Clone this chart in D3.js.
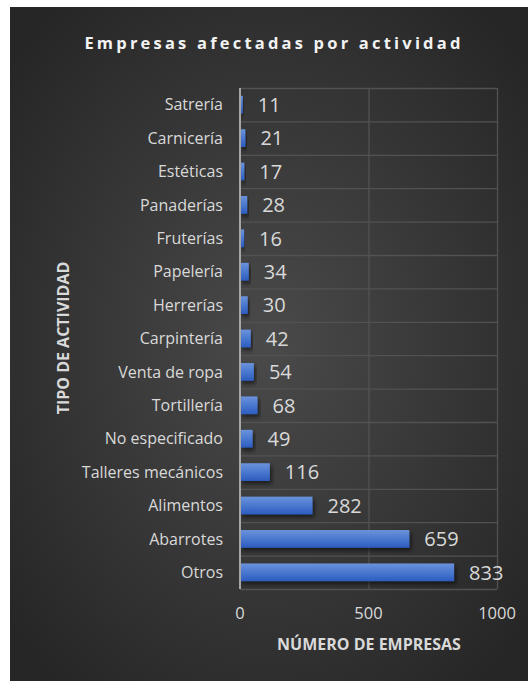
<!DOCTYPE html>
<html>
<head>
<meta charset="utf-8">
<script src="https://cdn.jsdelivr.net/npm/d3@7"></script>
<style>
  html, body { margin: 0; padding: 0; background: #ffffff; }
  svg { display: block; }
  text { font-family: "Open Sans", Lato, sans-serif; }
</style>
</head>
<body>
<script>
// Activity categories, listed top to bottom
const categories = [
  "Satrería", "Carnicería", "Estéticas", "Panaderías", "Fruterías",
  "Papelería", "Herrerías", "Carpintería", "Venta de ropa", "Tortillería",
  "No especificado", "Talleres mecánicos", "Alimentos", "Abarrotes", "Otros"
];
// Number of affected businesses per category
const empresas = [11, 21, 17, 28, 16, 34, 30, 42, 54, 68, 49, 116, 282, 659, 833];
const xTicks = [0, 500, 1000];

const W = 528, H = 681;
const svg = d3.select("body").append("svg").attr("width", W).attr("height", H);
const defs = svg.append("defs");

const bg = defs.append("radialGradient").attr("id", "bg")
  .attr("cx", "50%").attr("cy", "50%").attr("r", "65%");
bg.append("stop").attr("offset", "0%").attr("stop-color", "#4a4a4a");
bg.append("stop").attr("offset", "100%").attr("stop-color", "#262626");

const barGrad = defs.append("linearGradient").attr("id", "barGrad")
  .attr("x1", 0).attr("y1", 0).attr("x2", 0).attr("y2", 1);
barGrad.append("stop").attr("offset", "0%").attr("stop-color", "#6b93dc");
barGrad.append("stop").attr("offset", "50%").attr("stop-color", "#4a78cf");
barGrad.append("stop").attr("offset", "100%").attr("stop-color", "#2c5cc0");

const shadow = defs.append("filter").attr("id", "shadow")
  .attr("x", "-10%").attr("y", "-30%").attr("width", "130%").attr("height", "190%");
shadow.append("feDropShadow").attr("dx", 2).attr("dy", 3).attr("stdDeviation", 2.2)
  .attr("flood-color", "#000").attr("flood-opacity", 0.55);

// Chart area
svg.append("rect").attr("x", 10).attr("y", 7).attr("width", W - 10).attr("height", H - 7)
  .attr("fill", "url(#bg)");

const plot = { left: 240, right: 497, top: 88, bottom: 589 };

const x = d3.scaleLinear().domain([0, 1000]).range([plot.left, plot.right]);
const y = d3.scaleBand().domain(categories).range([plot.top, plot.bottom])
  .paddingInner(0.47).paddingOuter(0.235);
const yb = d3.scaleBand().domain(categories).range([plot.top, plot.bottom]);

const grid = svg.append("g");
// horizontal separators between categories
grid.selectAll("line.h").data(categories.concat(["__end"])).join("line")
  .attr("x1", plot.left).attr("x2", plot.right)
  .attr("y1", (d, i) => plot.top + i * yb.step() + 0.5)
  .attr("y2", (d, i) => plot.top + i * yb.step() + 0.5)
  .attr("stroke", "#525252").attr("stroke-width", 1.3);
// vertical gridlines
grid.selectAll("line.v").data(xTicks.slice(1)).join("line")
  .attr("x1", d => x(d) + 0.5).attr("x2", d => x(d) + 0.5)
  .attr("y1", plot.top).attr("y2", plot.bottom)
  .attr("stroke", "#525252").attr("stroke-width", 1.3);

// bars
svg.append("g").selectAll("rect").data(empresas).join("rect")
  .attr("x", x(0))
  .attr("y", (d, i) => y(categories[i]))
  .attr("width", d => x(d) - x(0))
  .attr("height", y.bandwidth())
  .attr("fill", "url(#barGrad)")
  .attr("filter", "url(#shadow)");

// category axis line
svg.append("line").attr("x1", plot.left).attr("x2", plot.left)
  .attr("y1", plot.top).attr("y2", plot.bottom)
  .attr("stroke", "#a6a6a6").attr("stroke-width", 2);

// category labels
svg.append("g").selectAll("text").data(categories).join("text")
  .attr("x", 223)
  .attr("y", d => yb(d) + yb.bandwidth() / 2)
  .attr("dy", "0.35em")
  .attr("text-anchor", "end")
  .attr("fill", "#d9d9d9")
  .attr("font-size", 16)
  .text(d => d);

// value labels
svg.append("g").selectAll("text").data(empresas).join("text")
  .attr("x", d => x(d) + 15)
  .attr("y", (d, i) => yb(categories[i]) + yb.bandwidth() / 2)
  .attr("dy", "0.36em")
  .attr("fill", "#d9d9d9")
  .attr("font-size", 20)
  .text(d => d);

// x tick labels
svg.append("g").selectAll("text").data(xTicks).join("text")
  .attr("x", d => x(d))
  .attr("y", 613)
  .attr("dy", "0.35em")
  .attr("text-anchor", "middle")
  .attr("fill", "#d9d9d9")
  .attr("font-size", 16.5)
  .text(d => d);

// axis titles
svg.append("text")
  .attr("x", 369).attr("y", 644)
  .attr("dy", "0.35em").attr("text-anchor", "middle")
  .attr("fill", "#d9d9d9").attr("font-size", 16).attr("font-weight", "bold")
  .text("NÚMERO DE EMPRESAS");

svg.append("text")
  .attr("transform", "translate(63,338) rotate(-90)")
  .attr("dy", "0.35em").attr("text-anchor", "middle")
  .attr("fill", "#d9d9d9").attr("font-size", 16).attr("font-weight", "bold")
  .text("TIPO DE ACTIVIDAD");

// title
svg.append("text")
  .attr("x", 274).attr("y", 43)
  .attr("dy", "0.35em").attr("text-anchor", "middle")
  .attr("fill", "#f2f2f2").attr("font-size", 16.5).attr("font-weight", "bold")
  .attr("letter-spacing", 3.2)
  .text("Empresas afectadas por actividad");
</script>
</body>
</html>
